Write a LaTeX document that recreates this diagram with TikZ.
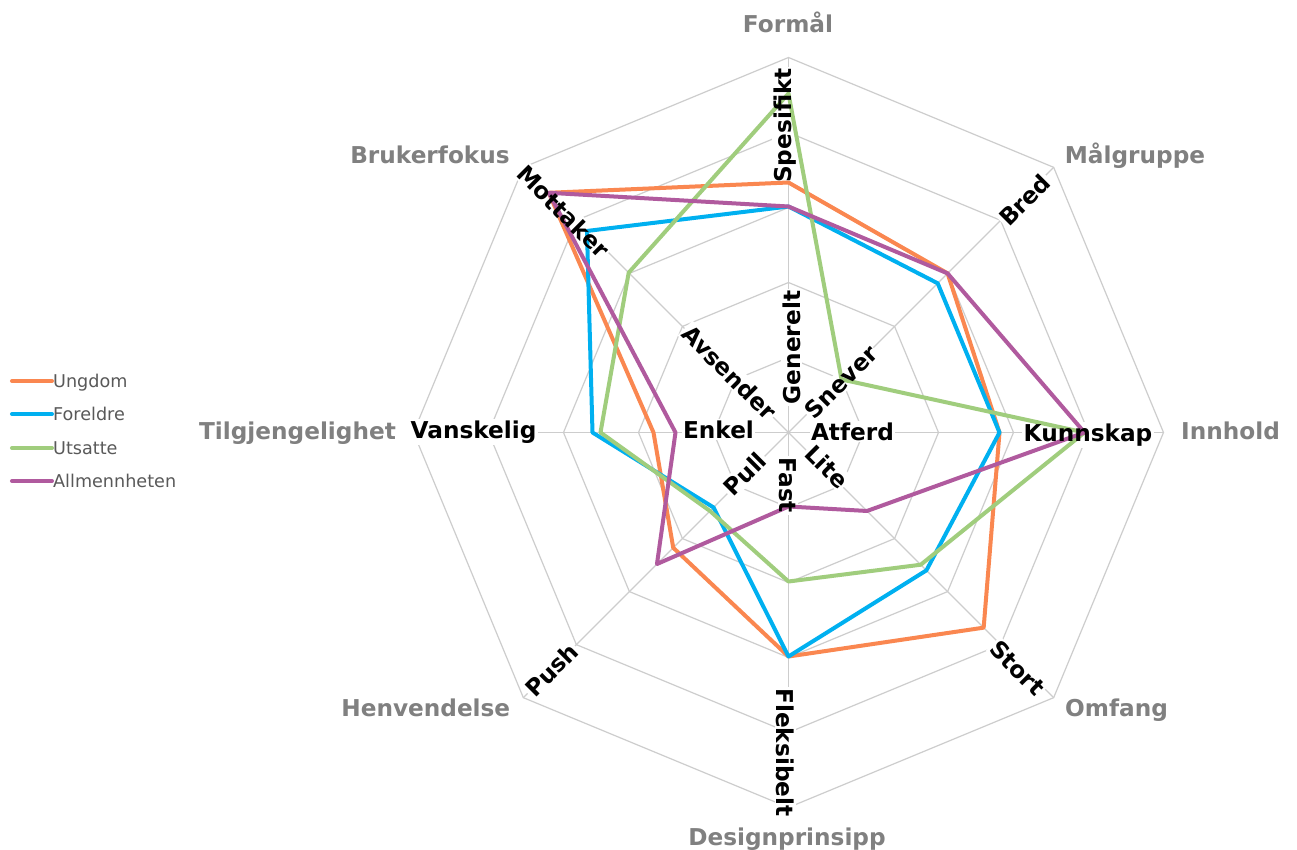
\documentclass[tikz,border=0pt]{standalone}
\usepackage{fontspec}
\setmainfont{DejaVu Sans}
\definecolor{cUng}{RGB}{250,135,80}
\definecolor{cFor}{RGB}{0,176,240}
\definecolor{cUts}{RGB}{160,205,125}
\definecolor{cAll}{RGB}{176,90,158}
\definecolor{gridc}{RGB}{205,205,205}
\definecolor{catgray}{RGB}{128,128,128}
\definecolor{leggray}{RGB}{89,89,89}
\begin{document}
\begin{tikzpicture}[x=1pt,y=1pt,
  gridline/.style={draw=gridc, line width=1.2pt},
  catlbl/.style={font=\fontsize{23.2}{28}\selectfont\bfseries, text=catgray, inner sep=0pt, anchor=base},
  endlbl/.style={font=\fontsize{23.2}{28}\selectfont\bfseries, text=black, inner sep=0pt, anchor=base},
  lblbg/.style={font=\fontsize{23.2}{28}\selectfont\bfseries, fill=white, inner sep=1.5pt, anchor=base},
  series/.style={line width=4pt, line join=round},
  legline/.style={line width=4pt, line cap=round},
  legtext/.style={font=\fontsize{17.6}{20}\selectfont, text=leggray, anchor=base west, inner sep=0pt}]
\useasboundingbox[fill=white] (-788.5,-417.5) rectangle (508.5,432.5);
% grid
\foreach \r in {75,150,225,300,375}
  \draw[gridline] (90:\r) -- (45:\r) -- (0:\r) -- (-45:\r) -- (-90:\r) -- (-135:\r) -- (180:\r) -- (135:\r) -- cycle;
\foreach \a in {0,45,...,315}
  \draw[gridline] (0,0) -- (\a:375);
% white backgrounds of end labels
\foreach \n/\x/\y/\r/\t in {spes/2.5/307/90/Spesifikt, gen/11.5/85/90/Generelt,
  bred/242.5/226.5/45/Bred, snev/58.5/44.5/45/Snever,
  kunn/299.5/-9/0/Kunnskap, atf/64/-8/0/Atferd,
  stort/223/-241.5/-45/Stort, lite/32.2/-40.2/-45/Lite,
  flek/-11.8/-320/-90/Fleksibelt, fast/-9/-53/-90/Fast,
  push/-230.8/-243.5/45/Push, pull/-37.5/-47.5/45/Pull,
  vansk/-315/-6/0/Vanskelig, enk/-70/-6/0/Enkel,
  mott/-231.2/214.8/-45/Mottaker, avs/-65.3/54/-45/Avsender}
  \node[lblbg, rotate=\r] (bg\n) at (\x,\y) {\phantom{\t}};
% data series
\draw[series, cUng] (90:250) -- (45:225) -- (0:211) -- (-45:276) -- (-90:224) -- (-135:163) -- (180:135) -- (135:339) -- cycle;
\draw[series, cFor] (90:226) -- (45:211) -- (0:211) -- (-45:195) -- (-90:224) -- (-135:106) -- (180:196) -- (135:285) -- cycle;
\draw[series, cUts] (90:339) -- (45:75) -- (0:296) -- (-45:187) -- (-90:149) -- (-135:111) -- (180:188) -- (135:226) -- cycle;
\draw[series, cAll] (90:226) -- (45:225) -- (0:296) -- (-45:111) -- (-90:74) -- (-135:186) -- (180:113) -- (135:339) -- cycle;
% end labels
\foreach \n/\x/\y/\r/\t in {spes/2.5/307/90/Spesifikt, gen/11.5/85/90/Generelt,
  bred/242.5/226.5/45/Bred, snev/58.5/44.5/45/Snever,
  kunn/299.5/-9/0/Kunnskap, atf/64/-8/0/Atferd,
  stort/223/-241.5/-45/Stort, lite/32.2/-40.2/-45/Lite,
  flek/-11.8/-320/-90/Fleksibelt, fast/-9/-53/-90/Fast,
  push/-230.8/-243.5/45/Push, pull/-37.5/-47.5/45/Pull,
  vansk/-315/-6/0/Vanskelig, enk/-70/-6/0/Enkel,
  mott/-231.2/214.8/-45/Mottaker, avs/-65.3/54/-45/Avsender}
  \node[endlbl, rotate=\r] (lb\n) at (\x,\y) {\t};
% category labels
\node[catlbl] (cform) at (-0.5,399.5) {Formål};
\node[catlbl] (cmal) at (346.5,269.2) {Målgruppe};
\node[catlbl] (cinn) at (442,-7.5) {Innhold};
\node[catlbl] (comf) at (328,-283.5) {Omfang};
\node[catlbl] (cdes) at (-1.5,-412.5) {Designprinsipp};
\node[catlbl] (chen) at (-362.7,-284.2) {Henvendelse};
\node[catlbl] (ctil) at (-491,-7.5) {Tilgjengelighet};
\node[catlbl] (cbru) at (-358.5,268.5) {Brukerfokus};
% legend
\coordinate (l1a) at (-776.5,51.5);  \coordinate (l1b) at (-736.5,51.5);
\coordinate (l2a) at (-776.5,18.5);  \coordinate (l2b) at (-736.5,18.5);
\coordinate (l3a) at (-776.5,-15.5); \coordinate (l3b) at (-736.5,-15.5);
\coordinate (l4a) at (-776.5,-48.5); \coordinate (l4b) at (-736.5,-48.5);
\draw[legline, cUng] (l1a) -- (l1b);
\draw[legline, cFor] (l2a) -- (l2b);
\draw[legline, cUts] (l3a) -- (l3b);
\draw[legline, cAll] (l4a) -- (l4b);
\node[legtext] (t1) at (-735.5,45) {Ungdom};
\node[legtext] (t2) at (-735.5,12) {Foreldre};
\node[legtext] (t3) at (-735.5,-22) {Utsatte};
\node[legtext] (t4) at (-735.5,-55) {Allmennheten};
\end{tikzpicture}
\end{document}
